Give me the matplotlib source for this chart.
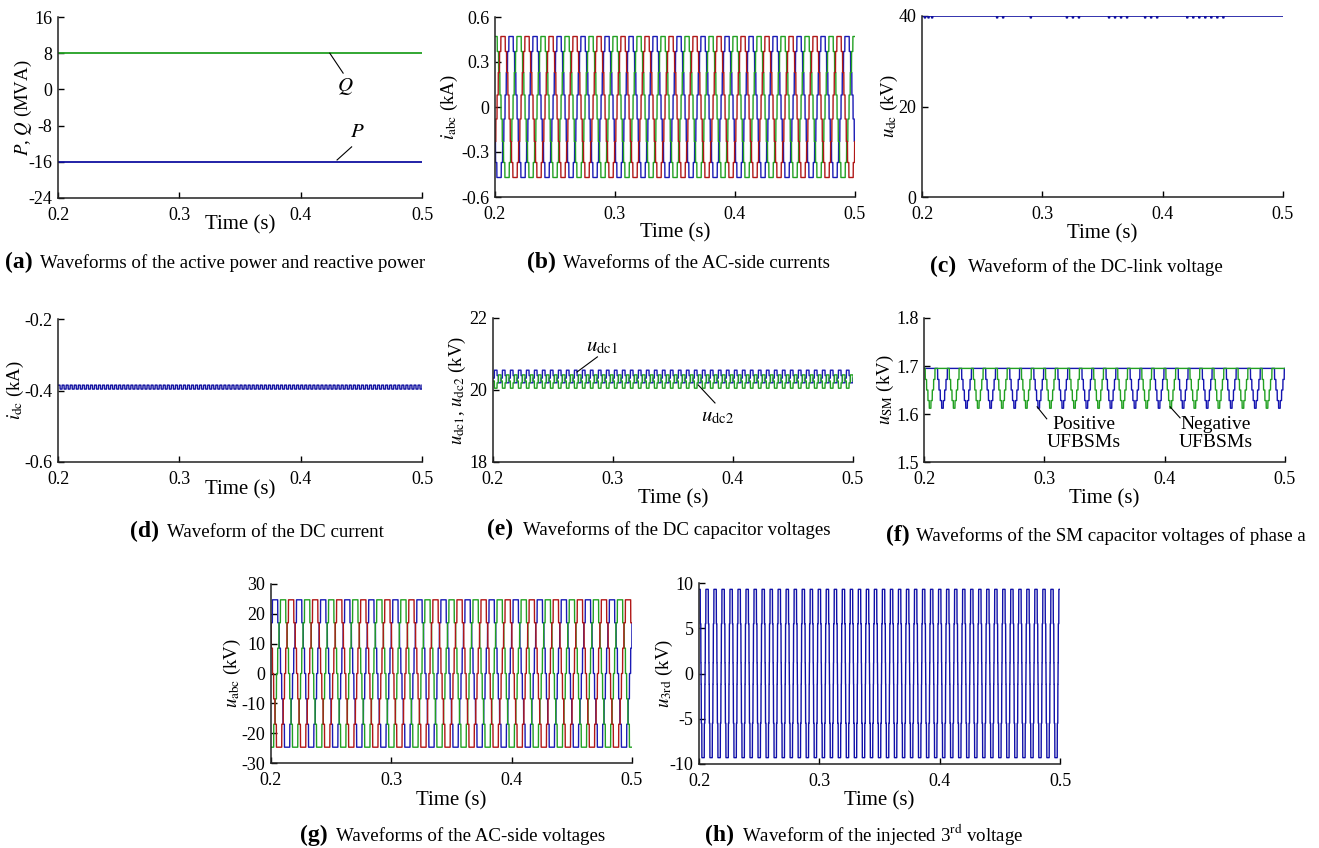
import numpy as np
import matplotlib
matplotlib.use("Agg")
import matplotlib.pyplot as plt

# ---------------- data ----------------
time_span = [0.2, 0.5]
x_ticks = [0.2, 0.3, 0.4, 0.5]
x_tick_labels = ["0.2", "0.3", "0.4", "0.5"]

# (a) active / reactive power (MVA)
pq_time = [0.2, 0.5]
p_values = [-16.0, -16.0]
q_values = [8.0, 8.0]

# fundamental frequency (Hz) of the waveforms
f_fund = 50.0
f_third = 150.0

# (b) AC-side currents: one period of the staircase (degrees, kA)
iabc_edges_deg = [0, 18, 37, 57, 123, 143, 162, 180, 198, 217, 237, 303, 323, 342]
iabc_levels = [0.08, 0.23, 0.37, 0.47, 0.37, 0.23, 0.08,
               -0.08, -0.23, -0.37, -0.47, -0.37, -0.23, -0.08]
iabc_phase_deg = {"a": 210, "b": 90, "c": 330}   # blue, green, red

# (c) DC-link voltage (kV) with small dips
udc_level = 40.0
udc_dip_times = [0.202, 0.205, 0.208, 0.262, 0.267, 0.29, 0.32, 0.325, 0.33,
                 0.355, 0.36, 0.365, 0.37, 0.385, 0.39, 0.395,
                 0.42, 0.425, 0.43, 0.435, 0.44, 0.445, 0.45]
udc_dip_value = 39.6

# (d) DC current ripple (kA), one ripple period
idc_edges_deg = [0, 180]
idc_levels = [-0.385, -0.396]
idc_freq = 300.0

# (e) DC capacitor voltages (kV), one ripple period
udc1_edges_deg = [0, 60, 180, 240]
udc1_levels = [20.33, 20.55, 20.40, 20.20]
udc2_levels = [20.20, 20.42, 20.25, 20.05]
udc2_phase_deg = 180

# (f) SM capacitor voltages (kV), one period
usm_edges_deg = [0, 170, 190, 210, 230, 255, 275, 295, 315]
usm_levels = [1.695, 1.672, 1.650, 1.628, 1.612, 1.628, 1.650, 1.672, 1.695]
usm_phase_deg = {"pos": 327, "neg": 152}

# (g) AC-side voltages (kV), one period
uabc_edges_deg = [0, 9, 28, 50, 130, 152, 171, 189, 208, 230, 310, 332, 351]
uabc_levels = [0, 8.5, 17, 24.7, 17, 8.5, 0, -8.5, -17, -24.7, -17, -8.5, 0]
uabc_phase_deg = {"a": 30, "b": 270, "c": 150}

# (h) injected 3rd harmonic voltage (kV), one period
u3_edges_deg = [0, 10, 35, 145, 170, 180, 190, 215, 325, 350]
u3_levels = [1.2, 5.5, 9.3, 5.5, 1.2, -1.2, -5.5, -9.3, -5.5, -1.2]

# ---------------- styling ----------------
BLUE = "#1a1ab4"
GREEN = "#22a022"
RED = "#b01818"
SERIF = ["Liberation Serif", "DejaVu Serif"]

plt.rcParams.update({
    "font.family": SERIF,
    "mathtext.fontset": "stix",
    "axes.unicode_minus": False,
    "xtick.direction": "in",
    "ytick.direction": "in",
    "xtick.major.size": 4,
    "ytick.major.size": 4,
    "xtick.major.width": 1.0,
    "ytick.major.width": 1.0,
    "axes.linewidth": 1.1,
    "axes.edgecolor": "#222222",
    "xtick.labelsize": 13,
    "ytick.labelsize": 13,
    "xtick.major.pad": 6.5,
    "ytick.major.pad": 4,
})

W, H = 1319, 848
fig = plt.figure(figsize=(W / 100, H / 100), dpi=100)


def add_ax(left, top, right, bottom):
    return fig.add_axes([left / W, 1 - bottom / H, (right - left) / W, (bottom - top) / H])


def stair(t, freq, phase_deg, edges, levels, t0=0.2):
    ph = (360.0 * freq * (t - t0) + phase_deg) % 360.0
    idx = np.searchsorted(np.asarray(edges, float), ph, side="right") - 1
    return np.asarray(levels, float)[idx]


def style(ax, ylim, yticks, yticklabels, ylabel, xl_off, lpad=0):
    ax.set_xlim(*time_span)
    ax.set_xticks(x_ticks)
    ax.set_xticklabels(x_tick_labels)
    ax.set_ylim(*ylim)
    ax.set_yticks(yticks)
    ax.set_yticklabels(yticklabels)
    for s in ("top", "right"):
        ax.spines[s].set_visible(False)
    ax.set_ylabel(ylabel, fontsize=13.5, labelpad=lpad)
    h = ax.get_position().height * H
    ax.text(0.5, -xl_off / h, "Time (s)", transform=ax.transAxes,
            ha="center", va="baseline", fontsize=15)


def caption(xl, xt, y, letter, text):
    fig.text(xl / W, 1 - y / H, letter, fontsize=17, fontweight="bold", va="baseline", ha="left")
    fig.text(xt / W, 1 - y / H, text, fontsize=13.6, va="baseline", ha="left")


t = np.linspace(0.2, 0.5, 60001)

# (a)
ax = add_ax(58, 17, 422, 198)
ax.plot(pq_time, q_values, color=GREEN, lw=1.3)
ax.plot(pq_time, p_values, color="#1010a0", lw=1.3)
style(ax, (-24, 16), [-24, -16, -8, 0, 8, 16], ["-24", "-16", "-8", "0", "8", "16"],
      r"$P$, $Q$ (MVA)", 31, lpad=-4)
ax.plot([0.424, 0.435], [8, 3.6], color="k", lw=0.8)
ax.text(0.437, 0.7, r"$Q$", fontsize=15, ha="center", va="center")
ax.plot([0.430, 0.442], [-15.6, -12.7], color="k", lw=0.8)
ax.text(0.447, -9.6, r"$P$", fontsize=15, ha="center", va="center")

# (b)
ax = add_ax(495, 17, 855, 197)
for key, col in (("a", BLUE), ("b", GREEN), ("c", RED)):
    ax.plot(t, stair(t, f_fund, iabc_phase_deg[key], iabc_edges_deg, iabc_levels), color=col, lw=1.0)
style(ax, (-0.6, 0.6), [-0.6, -0.3, 0, 0.3, 0.6], ["-0.6", "-0.3", "0", "0.3", "0.6"],
      r"$i_{\rm abc}$ (kA)", 40, lpad=1)

# (c)
ax = add_ax(922, 16, 1283, 197)
udc = np.full_like(t, udc_level)
for td in udc_dip_times:
    udc[(t >= td) & (t < td + 0.0008)] = udc_dip_value
ax.plot(t, udc, color="#1010a0", lw=1.2)
style(ax, (0, 40), [0, 20, 40], ["0", "20", "40"], r"$u_{\rm dc}$ (kV)", 41, lpad=-1)

# (d)
ax = add_ax(58, 319, 422, 462)
ax.plot(t, stair(t, idc_freq, 0, idc_edges_deg, idc_levels), color="#1010a0", lw=1.0)
style(ax, (-0.6, -0.2), [-0.6, -0.4, -0.2], ["-0.6", "-0.4", "-0.2"], r"$i_{\rm dc}$ (kA)", 32, lpad=-1)

# (e)
ax = add_ax(493, 318, 853, 462)
ax.plot(t, stair(t, f_third, 0, udc1_edges_deg, udc1_levels), color=BLUE, lw=1.0)
ax.plot(t, stair(t, f_third, udc2_phase_deg, udc1_edges_deg, udc2_levels), color=GREEN, lw=1.0)
style(ax, (18, 22), [18, 20, 22], ["18", "20", "22"], r"$u_{\rm dc1}$, $u_{\rm dc2}$ (kV)", 41, lpad=1)
ax.plot([0.287, 0.270], [20.92, 20.5], color="k", lw=0.8)
ax.text(0.291, 21.2, r"$u_{\rm dc1}$", fontsize=15, ha="center", va="center")
ax.plot([0.371, 0.385], [20.14, 19.64], color="k", lw=0.8)
ax.text(0.387, 19.25, r"$u_{\rm dc2}$", fontsize=15, ha="center", va="center")

# (f)
ax = add_ax(924, 318, 1285, 462)
ax.plot(t, stair(t, f_fund, usm_phase_deg["pos"], usm_edges_deg, usm_levels), color="#1515b0", lw=1.0)
ax.plot(t, stair(t, f_fund, usm_phase_deg["neg"], usm_edges_deg, usm_levels), color=GREEN, lw=1.0)
style(ax, (1.5, 1.8), [1.5, 1.6, 1.7, 1.8], ["1.5", "1.6", "1.7", "1.8"], r"$u_{\rm SM}$ (kV)", 41, lpad=0)
ax.plot([0.294, 0.302], [1.615, 1.59], color="k", lw=0.8)
ax.text(0.333, 1.56, "Positive\nUFBSMs", fontsize=14, ha="center", va="center", linespacing=1.05)
ax.plot([0.4045, 0.4128], [1.615, 1.592], color="k", lw=0.8)
ax.text(0.442, 1.56, "Negative\nUFBSMs", fontsize=14, ha="center", va="center", linespacing=1.05)

# (g)
ax = add_ax(271, 584, 632, 763)
for key, col in (("a", BLUE), ("b", GREEN), ("c", RED)):
    ax.plot(t, stair(t, f_fund, uabc_phase_deg[key], uabc_edges_deg, uabc_levels), color=col, lw=1.0)
style(ax, (-30, 30), [-30, -20, -10, 0, 10, 20, 30],
      ["-30", "-20", "-10", "0", "10", "20", "30"], r"$u_{\rm abc}$ (kV)", 42, lpad=-1)

# (h)
ax = add_ax(699, 583, 1060, 764)
ax.plot(t, stair(t, f_third, 90, u3_edges_deg, u3_levels), color="#1010a8", lw=1.0)
style(ax, (-10, 10), [-10, -5, 0, 5, 10], ["-10", "-5", "0", "5", "10"], r"$u_{\rm 3rd}$ (kV)", 41, lpad=-4)

# captions
caption(5, 40, 268, "(a)", "Waveforms of the active power and reactive power")
caption(527, 563, 268, "(b)", "Waveforms of the AC-side currents")
caption(930, 968, 272, "(c)", "Waveform of the DC-link voltage")
caption(130, 167, 537, "(d)", "Waveform of the DC current")
caption(487, 523, 535, "(e)", "Waveforms of the DC capacitor voltages")
caption(886, 916, 541, "(f)", "Waveforms of the SM capacitor voltages of phase a")
caption(300, 336, 841, "(g)", "Waveforms of the AC-side voltages")
caption(705, 742, 841, "(h)", r"Waveform of the injected 3$^{\rm rd}$ voltage")

fig.savefig("out.png", dpi=100)
